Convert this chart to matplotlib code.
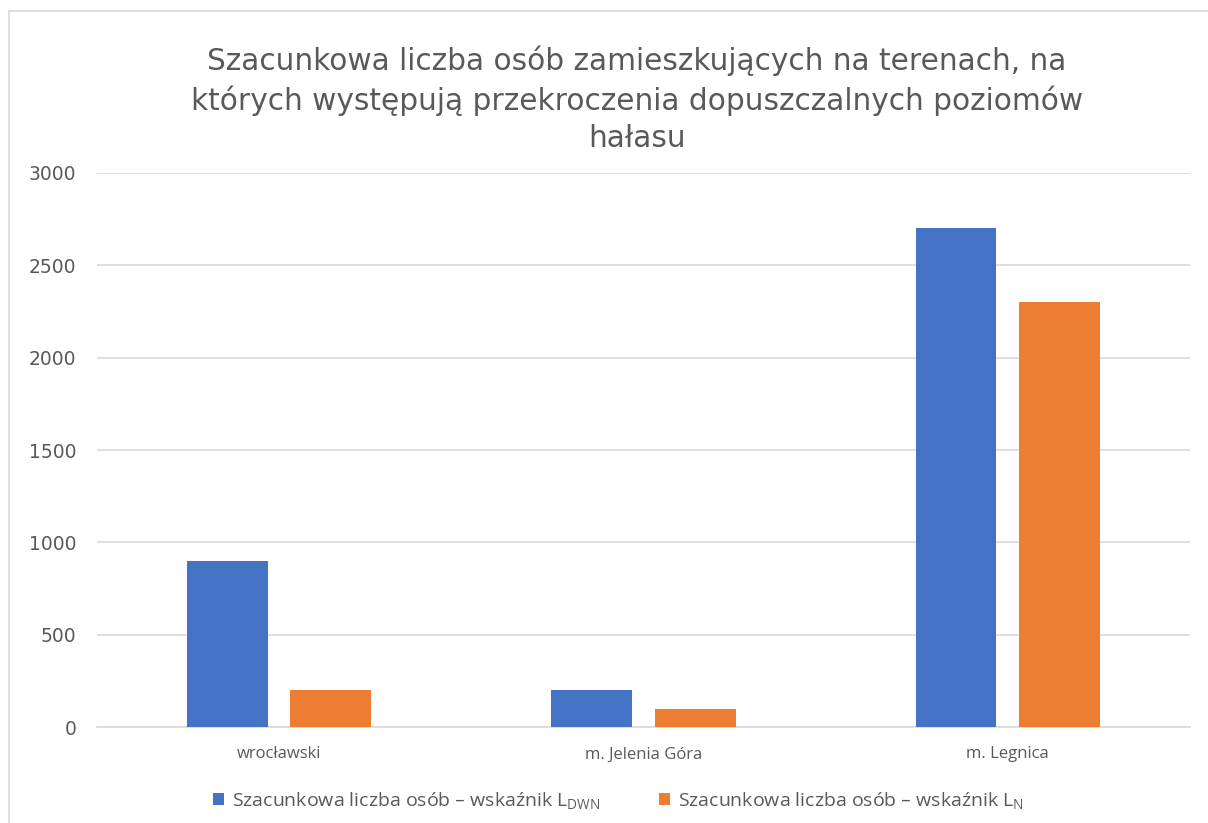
import matplotlib.pyplot as plt
import matplotlib.patches as mpatches
import numpy as np

# Dane
kategorie = ["wrocławski", "m. Jelenia Góra", "m. Legnica"]
wartosci_ldwn = [900, 200, 2700]
wartosci_ln = [200, 100, 2300]
etykiety_serii = [r"Szacunkowa liczba osób – wskaźnik $\mathregular{L_{DWN}}$",
                  r"Szacunkowa liczba osób – wskaźnik $\mathregular{L_{N}}$"]
tytul = ("Szacunkowa liczba osób zamieszkujących na terenach, na\n"
         "których występują przekroczenia dopuszczalnych poziomów\n"
         "hałasu")

plt.rcParams['font.family'] = ['Open Sans', 'DejaVu Sans']
KOLOR_TEKSTU = "#595959"

fig = plt.figure(figsize=(12.08, 8.23), dpi=100)
ax = fig.add_axes([0.0803, 0.1166, 0.9047, 0.6732])

# Ramka wykresu (przycięta z prawej i dołu)
fig.patches.append(mpatches.Rectangle((9 / 1208, -0.05), 1.1, 1 - 11 / 823 + 0.05,
                                      transform=fig.transFigure, fill=False,
                                      edgecolor="#D9D9D9", linewidth=1.2))

x = np.arange(len(kategorie))
szer = 0.222
ax.bar(x - 0.142, wartosci_ldwn, szer, color="#4472C4", label=etykiety_serii[0], zorder=3)
ax.bar(x + 0.142, wartosci_ln, szer, color="#ED7D31", label=etykiety_serii[1], zorder=3)

ax.set_xlim(-0.5, 2.5)
ax.set_ylim(0, 3000)
ax.set_yticks(range(0, 3001, 500))
ax.set_xticks(x)
ax.set_xticklabels(kategorie, fontsize=12)
for t in ax.get_yticklabels():
    t.set_family('DejaVu Sans')
    t.set_fontsize(13.5)
ax.grid(axis='y', color="#D9D9D9", linewidth=1.2, zorder=0)
for s in ax.spines.values():
    s.set_visible(False)
ax.spines['bottom'].set_visible(True)
ax.spines['bottom'].set_color("#D9D9D9")
ax.spines['bottom'].set_linewidth(1.2)
ax.tick_params(length=0, labelcolor=KOLOR_TEKSTU)
ax.tick_params(axis='y', pad=15)
ax.tick_params(axis='x', pad=14)

fig.text(0.527, 0.945, tytul, ha='center', va='top', fontsize=21.3,
         color=KOLOR_TEKSTU, linespacing=1.38, family='DejaVu Sans')

ax.legend(loc='center', bbox_to_anchor=(0.477, -0.132), ncol=2, frameon=False,
          fontsize=14, labelcolor=KOLOR_TEKSTU, handlelength=0.6, handleheight=0.6,
          handletextpad=0.4, columnspacing=3.0)

plt.savefig("out.png", dpi=100)
